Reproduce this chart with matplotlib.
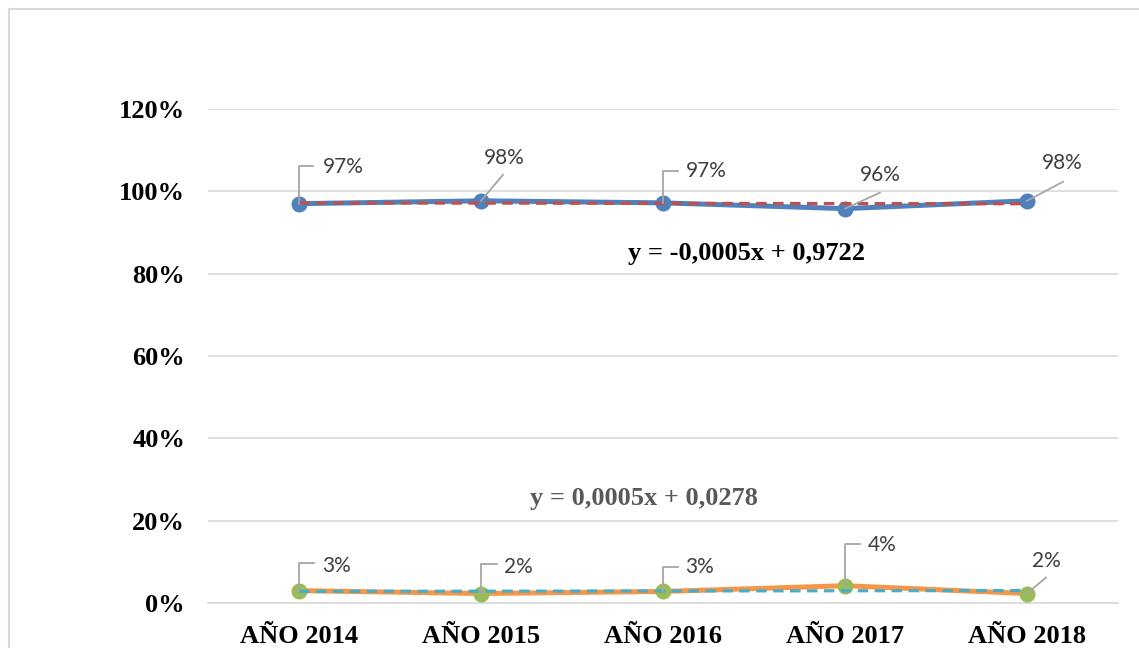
import matplotlib
matplotlib.use("Agg")
import matplotlib.pyplot as plt
import numpy as np
from matplotlib.lines import Line2D
from matplotlib.ticker import FuncFormatter

categories = ["AÑO 2014", "AÑO 2015", "AÑO 2016", "AÑO 2017", "AÑO 2018"]
serie_a = [0.970, 0.977, 0.972, 0.958, 0.977]
serie_b = [0.030, 0.023, 0.028, 0.042, 0.023]
labels_a = ["97%", "98%", "97%", "96%", "98%"]
labels_b = ["3%", "2%", "3%", "4%", "2%"]
eq_a = "y = -0,0005x + 0,9722"
eq_b = "y = 0,0005x + 0,0278"
yticks = [0, 0.2, 0.4, 0.6, 0.8, 1.0, 1.2]

W, H = 1139, 648
fig = plt.figure(figsize=(W / 100, H / 100), dpi=100)
fig.patch.set_facecolor("white")
ax = fig.add_axes([208 / W, (H - 603) / H, (1118 - 208) / W, (603 - 109) / H])
ax.set_xlim(-0.5, 4.5)
ax.set_ylim(0, 1.2)

# figure border
fig.add_artist(Line2D([9 / W, 9 / W], [0, 1 - 9 / H], transform=fig.transFigure,
                      color="#d9d9d9", lw=1.5))
fig.add_artist(Line2D([9 / W, 1], [1 - 9 / H, 1 - 9 / H], transform=fig.transFigure,
                      color="#d9d9d9", lw=1.5))

for s in ["top", "right", "left"]:
    ax.spines[s].set_visible(False)
ax.spines["bottom"].set_color("#d9d9d9")
ax.spines["bottom"].set_linewidth(1.2)
ax.set_yticks(yticks)
ax.yaxis.set_major_formatter(FuncFormatter(lambda v, p: f"{round(v*100)}%"))
ax.grid(axis="y", color="#d9d9d9", lw=1.2)
ax.set_axisbelow(True)
ax.tick_params(length=0)
ax.tick_params(axis="y", pad=16.5)
ax.tick_params(axis="x", pad=15.5)
x = np.arange(len(categories))
ax.set_xticks(x)
ax.set_xticklabels(categories)
for lab in ax.get_xticklabels() + ax.get_yticklabels():
    lab.set_fontfamily("Liberation Serif")
    lab.set_fontweight("bold")
    lab.set_fontsize(19)

blue, red, orange, green, cyan = "#4F81BD", "#C0504D", "#F79646", "#9BBB59", "#4BACC6"

ax.plot(x, serie_a, color=blue, lw=3.6, marker="o", ms=10.5, mfc=blue, mec=blue, zorder=3,
        solid_capstyle="round")
ax.plot(x, serie_b, color=orange, lw=3.6, marker="o", ms=10.5, mfc=green, mec=green, zorder=3,
        solid_capstyle="round")

pa = np.polyfit(x + 1, serie_a, 1)
pb = np.polyfit(x + 1, serie_b, 1)
ax.plot(x, np.polyval(pa, x + 1), color=red, lw=2.3, ls=(0, (3.3, 2)), zorder=4)
ax.plot(x, np.polyval(pb, x + 1), color=cyan, lw=2.3, ls=(0, (3.3, 2)), zorder=4)

ax.text(2.46, 0.848, eq_a, family="Liberation Serif", weight="bold", fontsize=19,
        color="black", ha="center", va="center")
ax.text(1.896, 0.255, eq_b, family="Liberation Serif", weight="bold", fontsize=19,
        color="#595959", ha="center", va="center")

fig.canvas.draw()

# leader line specs: image-pixel offsets from point; text centre offset
lead_a = [
    ([(0, 0), (0, -38), (14, -38)], (44, -37)),
    ([(0, 0), (22, -26)], (23, -43)),
    ([(0, 0), (0, -32), (15, -32)], (43, -32)),
    ([(0, 0), (35, -16)], (35, -34)),
    ([(0, 0), (36, -19)], (35, -38)),
]
lead_b = [
    ([(0, 0), (0, -28), (15, -28)], (38, -25)),
    ([(0, 0), (0, -30), (16, -30)], (37, -27)),
    ([(0, 0), (0, -24), (15, -24)], (37, -24)),
    ([(0, 0), (0, -42), (15, -42)], (37, -41)),
    ([(0, 0), (19, -16)], (19, -33)),
]

def draw_labels(vals, labs, leads):
    for i, (v, lab, (pts, toff)) in enumerate(zip(vals, labs, leads)):
        px, py = ax.transData.transform((i, v))
        xs = [px + dx for dx, dy in pts]
        ys = [py - dy for dx, dy in pts]
        fx = [xx / W for xx in xs]
        fy = [yy / H for yy in ys]
        fig.add_artist(Line2D(fx, fy, transform=fig.transFigure, color="#a6a6a6", lw=1.3,
                              zorder=5))
        tx, ty = px + toff[0], py - toff[1]
        fig.text(tx / W, ty / H, lab, family="Lato", fontsize=15, color="#404040",
                 ha="center", va="center")

draw_labels(serie_a, labels_a, lead_a)
draw_labels(serie_b, labels_b, lead_b)

fig.savefig("out.png", dpi=100, facecolor="white")
